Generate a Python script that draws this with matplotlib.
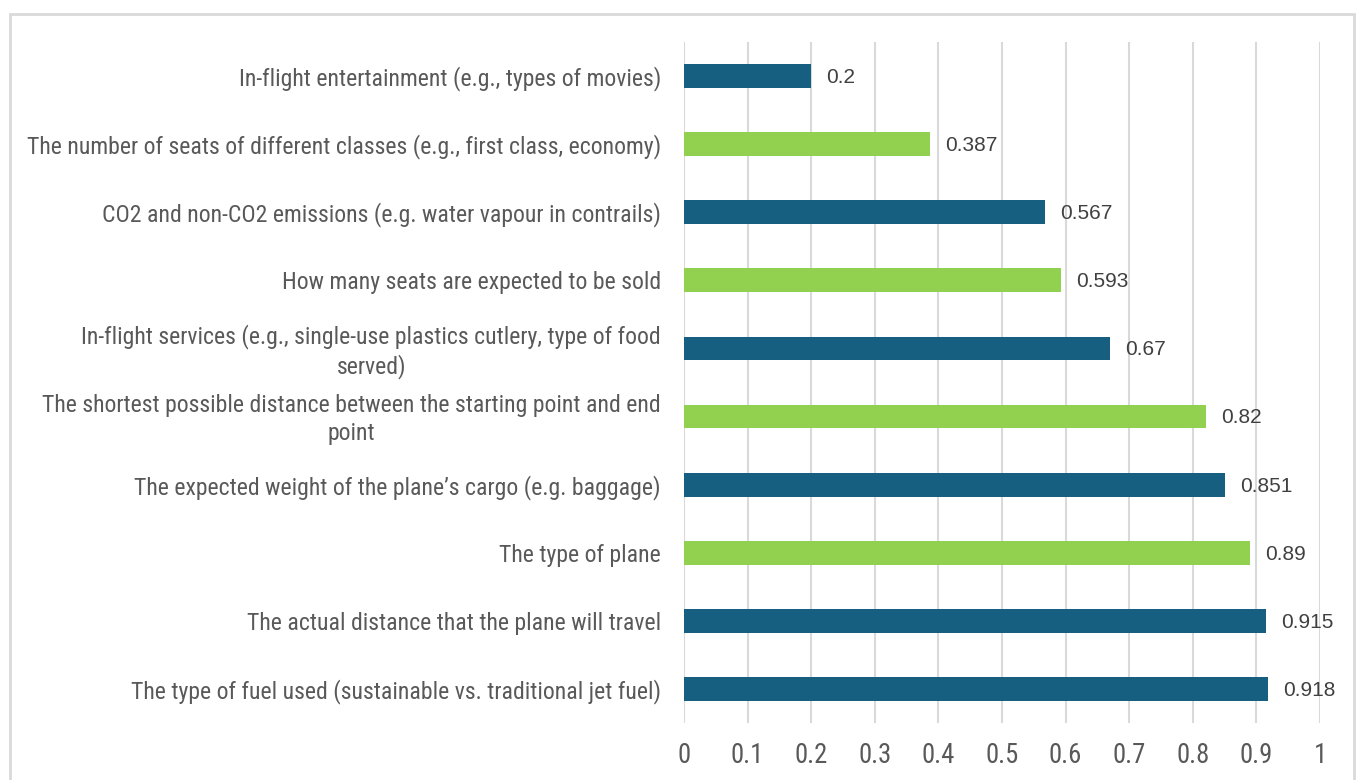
import matplotlib
matplotlib.use("Agg")
import matplotlib.pyplot as plt
from matplotlib.patches import Rectangle
from matplotlib import font_manager
from matplotlib.transforms import ScaledTranslation

categories = [
    "The type of fuel used (sustainable vs. traditional jet fuel)",
    "The actual distance that the plane will travel",
    "The type of plane",
    "The expected weight of the plane\u2019s cargo (e.g. baggage)",
    "The shortest possible distance between the starting point and end\npoint",
    "In-flight services (e.g., single-use plastics cutlery, type of food\nserved)",
    "How many seats are expected to be sold",
    "CO2 and non-CO2 emissions (e.g. water vapour in contrails)",
    "The number of seats of different classes (e.g., first class, economy)",
    "In-flight entertainment (e.g., types of movies)",
]
values = [0.918, 0.915, 0.89, 0.851, 0.82, 0.67, 0.593, 0.567, 0.387, 0.2]
value_labels = ["0.918", "0.915", "0.89", "0.851", "0.82", "0.67", "0.593", "0.567", "0.387", "0.2"]
BLUE = "#175F80"
GREEN = "#92D050"
colors = [BLUE, BLUE, GREEN, BLUE, GREEN, BLUE, GREEN, BLUE, GREEN, BLUE]
xticks = [0, 0.1, 0.2, 0.3, 0.4, 0.5, 0.6, 0.7, 0.8, 0.9, 1]
xtick_labels = ["0", "0.1", "0.2", "0.3", "0.4", "0.5", "0.6", "0.7", "0.8", "0.9", "1"]

available = {f.name for f in font_manager.fontManager.ttflist}
narrow_font = "Liberation Sans"
for cand in ["Liberation Sans Narrow", "Roboto Condensed", "Open Sans Condensed",
             "Noto Sans Condensed", "DejaVu Sans Condensed", "Liberation Sans"]:
    if cand in available:
        narrow_font = cand
        break
narrow = [narrow_font, "DejaVu Sans"]
regular = ["Liberation Sans", "DejaVu Sans"]
TXT = "#595959"

fig = plt.figure(figsize=(13.6, 7.8), dpi=100)
fig.patches.append(Rectangle((9.5 / 1360, -0.01), (1354 - 9.5) / 1360, 1 - 14 / 780 + 0.01,
                             transform=fig.transFigure, fill=False, edgecolor="#D9D9D9",
                             linewidth=2, zorder=0))
ax = fig.add_axes([684 / 1360, 1 - 723 / 780, (1320 - 684) / 1360, (723 - 42) / 780])

y = list(range(len(categories)))
ax.barh(y, values, height=0.35, color=colors, zorder=3)
for yi, v, lab in zip(y, values, value_labels):
    ax.text(v + 0.024, yi - 0.02, lab, va="center", ha="left", fontsize=15, color="#404040",
            family=regular)

ax.set_xlim(0, 1)
ax.set_ylim(-0.5, len(categories) - 0.5)
ax.set_xticks(xticks)
ax.set_yticks(y)
ax.set_yticklabels(categories, family=narrow, fontsize=15, color=TXT, ha="center",
                   multialignment="center", linespacing=1.25)
ax.tick_params(axis="y", length=0, pad=0)
ax.tick_params(axis="x", length=0, pad=14)

fig.canvas.draw()
renderer = fig.canvas.get_renderer()
# scale label font so the widest label spans ~634 px, like the reference
widest = max(t.get_window_extent(renderer).width for t in ax.get_yticklabels())
size = 15 * 634 / widest
for t in ax.get_yticklabels():
    t.set_fontsize(size)
ax.set_xticklabels(xtick_labels, family=narrow, fontsize=size * 1.12, color=TXT)
fig.canvas.draw()
for t in ax.get_yticklabels():
    w = t.get_window_extent(renderer).width
    nlines = t.get_text().count("\n")
    dy = 0.02 if nlines else 0.0
    offset = ScaledTranslation(-(23 + w / 2) / 100, dy, fig.dpi_scale_trans)
    t.set_transform(t.get_transform() + offset)

ax.grid(axis="x", color="#D9D9D9", linewidth=1.5, zorder=0)
ax.grid(axis="y", visible=False)
for s in ax.spines.values():
    s.set_visible(False)

fig.savefig("out.png", dpi=100)
